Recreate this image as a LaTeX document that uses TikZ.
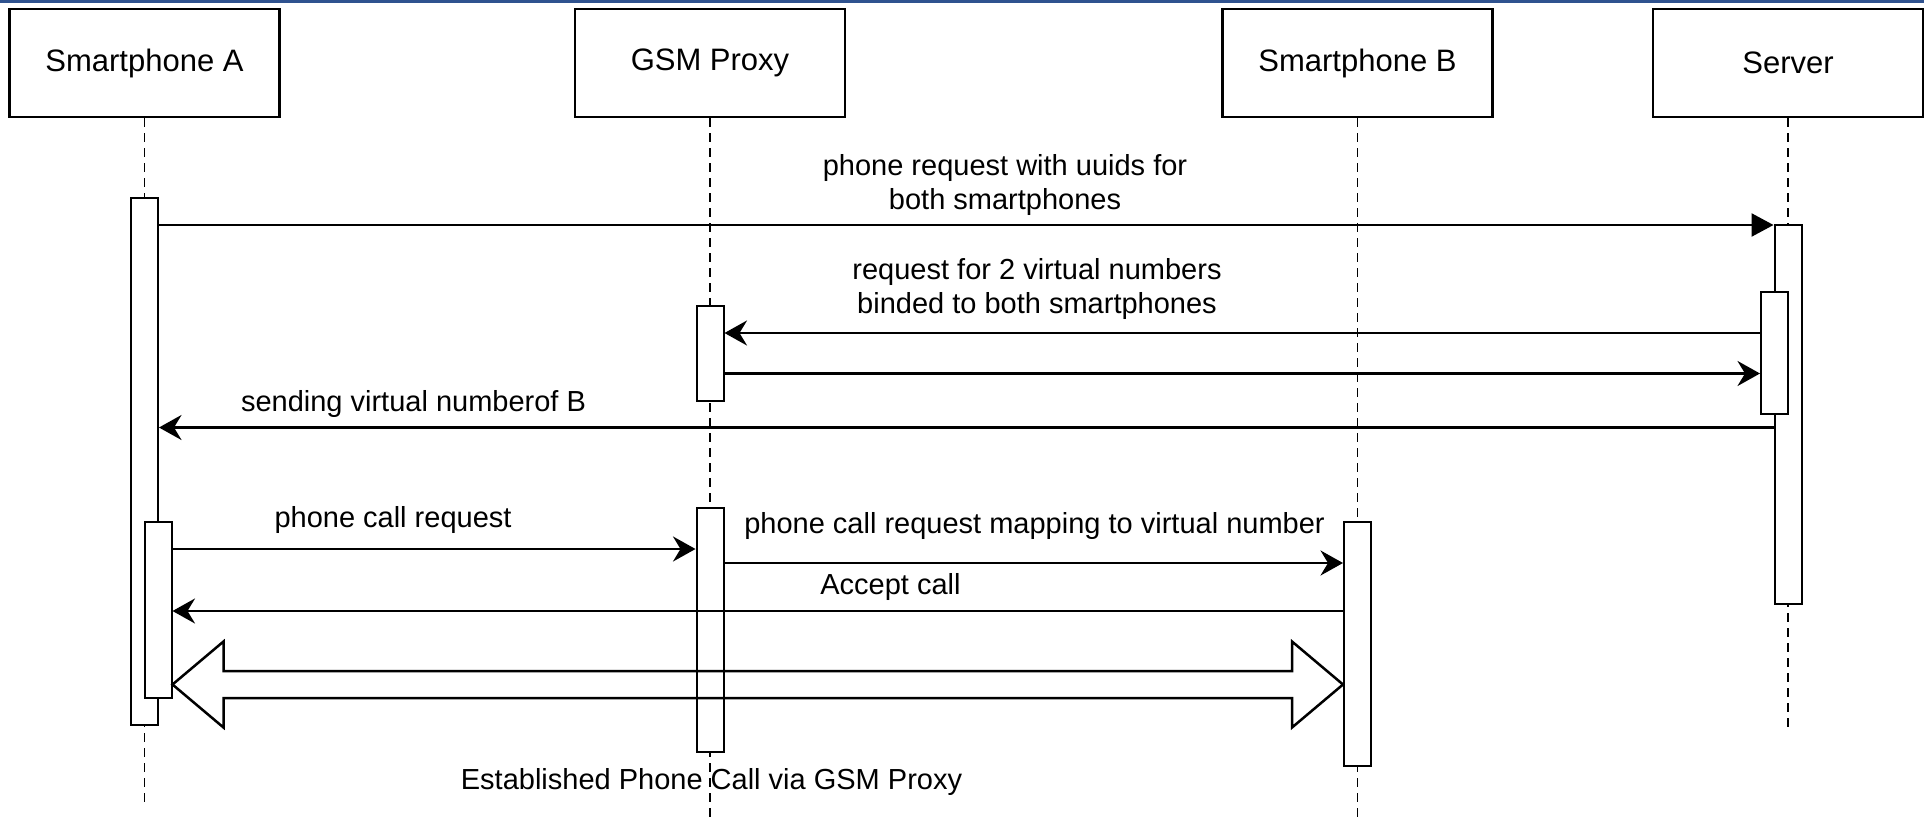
\documentclass[tikz,border=0pt]{standalone}
\usepackage{fontspec}
\setmainfont{Liberation Sans}
\usetikzlibrary{arrows.meta,calc}
\definecolor{barblue}{RGB}{47,82,143}

\begin{document}
\begin{tikzpicture}[x=0.4pt, y=0.4pt,
    hdr/.style={draw, line width=0.9pt, minimum width=108pt, minimum height=43.2pt, inner sep=0pt, font=\fontsize{12.4}{15}\selectfont},
    act/.style={draw, fill=white, line width=0.8pt, minimum width=10.8pt, inner sep=0pt},
    life/.style={dash pattern=on 3.6pt off 2.4pt, line width=0.7pt},
    msg/.style={line width=1pt, -{Stealth[length=9pt, width=10pt, inset=3pt]}},
    lbl/.style={align=center, inner sep=0pt, font=\fontsize{11.6}{13.6}\selectfont}]
      \useasboundingbox (0,0) rectangle (1924,-819);
      \fill[barblue] (0,0) rectangle (1924,-3.5);

      \node [hdr] (smA) at (144.5,-63) {Smartphone A};
      \node [hdr] (gsm) at (710,-63) {GSM Proxy};
      \node [hdr] (smB) at (1357.5,-63) {Smartphone B};
      \node [hdr] (srv) at (1788,-63) {Server};

      \coordinate (endA) at (144.5,-805);
      \coordinate (endG) at (710,-819);
      \coordinate (endB) at (1357.5,-819);
      \coordinate (endS) at (1788,-727);
      \foreach \a/\b in {smA/endA, gsm/endG, smB/endB, srv/endS}
        \draw[life] (\a.south) -- (\b);

      \node [act, minimum height=210.8pt] (actA) at (144.5,-461.5) {};
      \node [act, minimum height=70.4pt] (actA2) at (158,-610) {};
      \node [act, minimum height=38pt] (actG) at (710,-353.5) {};
      \node [act, minimum height=97.6pt] (actG2) at (710,-630) {};
      \node [act, minimum height=97.6pt] (actB) at (1357.5,-644) {};
      \node [act, minimum height=151.6pt] (actS) at (1788,-414.5) {};
      \node [act, minimum height=48.8pt] (actS2) at (1774.5,-353) {};

      \coordinate (m1) at (0,-225);
      \coordinate (m2) at (0,-333);
      \coordinate (m3) at (0,-373.5);
      \coordinate (m4) at (0,-427.5);
      \coordinate (m5) at (0,-549);
      \coordinate (m6) at (0,-563);
      \coordinate (m7) at (0,-611);
      \coordinate (m8) at (0,-684.5);

      \draw[line width=1pt, -{Triangle[length=8.8pt, width=9.2pt]}] (actA.east |- m1) -- (actS.west |- m1);
      \draw[msg] (actS2.west |- m2) -- (actG.east |- m2);
      \draw[msg] (actG.east |- m3) -- (actS2.west |- m3);
      \draw[msg] (actS.west |- m4) -- (actA.east |- m4);
      \draw[msg] (actA2.east |- m5) -- (actG2.west |- m5);
      \draw[msg] (actG2.east |- m6) -- (actB.west |- m6);
      \draw[msg] (actB.west |- m7) -- (actA2.east |- m7);
      \draw[line width=1pt, line join=miter] (actA2.east |- m8) -- ++(51,43) -- ++(0,-29.5)
        -- ($(actB.west |- m8)+(-51,13.5)$) -- ++(0,29.5) -- (actB.west |- m8) -- ++(-51,-43) -- ++(0,29.5)
        -- ($(actA2.east |- m8)+(51,-13.5)$) -- ++(0,-29.5) -- cycle;

      \node [lbl] (l1) at (1005,-185) {phone request with uuids for\\both smartphones};
      \node [lbl] (l2) at (1037,-289) {request for 2 virtual numbers\\binded to both smartphones};
      \node [lbl] (l3) at (413.5,-404) {sending virtual numberof B};
      \node [lbl] (l4) at (393,-520) {phone call request};
      \node [lbl] (l5) at (1034.5,-526) {phone call request mapping to virtual number};
      \node [lbl] (l6) at (890.5,-587) {Accept call};
      \node [lbl] (l7) at (711.5,-782) {Established Phone Call via GSM Proxy};
\end{tikzpicture}
\end{document}
